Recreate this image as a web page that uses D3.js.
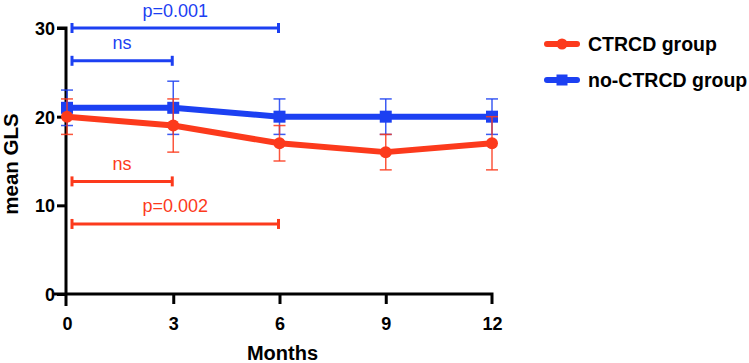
<!DOCTYPE html>
<html><head><meta charset="utf-8">
<script src="https://cdn.jsdelivr.net/npm/d3@7"></script>
<style>body{margin:0;background:#fff}svg{display:block}</style>
</head><body>
<svg id="c" width="749" height="363"></svg>
<script>
const months = [0, 3, 6, 9, 12];
const ctrcdMean = [20, 19, 17, 16, 17];
const ctrcdErr = [2, 3, 2, 2, 3];
const noCtrcdMean = [21, 21, 20, 20, 20];
const noCtrcdErr = [2, 3, 2, 2, 2];
const yTicks = [0, 10, 20, 30];
const xTicks = [0, 3, 6, 9, 12];
const seriesNames = ["CTRCD group", "no-CTRCD group"];
const bracketFrom = [0, 0, 0, 0];
const bracketTo = [6, 3, 3, 6];
const bracketY = [30, 26.3, 12.7, 7.9];
const bracketLabel = ["p=0.001", "ns", "ns", "p=0.002"];
const bracketSeries = [1, 1, 0, 0];

const RED = "#fc3a1c", BLUE = "#1c40f2";
const colors = [RED, BLUE];
const svg = d3.select("#c");
const font = "'Liberation Sans', Arial, Helvetica, sans-serif";

const x = d3.scaleLinear().domain([0, 12]).range([67, 492]);
const y = d3.scaleLinear().domain([0, 30]).range([294, 28]);

// axes
const yAxis = svg.append("g").attr("transform", "translate(66,0)")
  .call(d3.axisLeft(y).tickValues(yTicks).tickSize(9).tickPadding(2));
const xAxis = svg.append("g").attr("transform", "translate(0,294)")
  .call(d3.axisBottom(x).tickValues(xTicks).tickSize(10).tickPadding(13));
[yAxis, xAxis].forEach(g => {
  g.select(".domain").attr("stroke", "#000").attr("stroke-width", 3);
  g.selectAll(".tick line").attr("stroke", "#000").attr("stroke-width", 3);
  g.selectAll(".tick text").attr("fill", "#000").style("font-family", font)
    .style("font-size", "18px").style("font-weight", "bold");
});
yAxis.selectAll(".tick text").attr("dy", "0.36em");
xAxis.selectAll(".tick text").attr("dy", "0.72em");
yAxis.select(".domain").attr("d", `M-9,${y(30)}H0V${y(0)+12}`);
xAxis.select(".domain").attr("d", `M${66-12},0H${x(12)}V10`);
xAxis.selectAll(".tick").filter(d => d === 12).select("line").remove();
xAxis.selectAll(".tick").filter(d => d === 0).select("line").remove();

svg.append("text").attr("x", x(6)+3).attr("y", 360).attr("text-anchor", "middle")
  .style("font-family", font).style("font-size", "20px").style("font-weight", "bold").text("Months");
svg.append("text").attr("transform", "translate(18,164) rotate(-90)").attr("text-anchor", "middle")
  .style("font-family", font).style("font-size", "20.5px").style("font-weight", "bold").text("mean GLS");

// series
const series = [
  {mean: ctrcdMean, err: ctrcdErr, color: RED, marker: "circle"},
  {mean: noCtrcdMean, err: noCtrcdErr, color: BLUE, marker: "square"}
];
const line = d3.line().x(d => x(d[0])).y(d => y(d[1]));
[1, 0].forEach(si => {
  const s = series[si];
  const pts = months.map((m, i) => [m, s.mean[i], s.err[i]]);
  const g = svg.append("g");
  g.append("path").datum(pts).attr("d", line).attr("fill", "none")
    .attr("stroke", s.color).attr("stroke-width", 6).attr("stroke-linejoin", "round");
  pts.forEach(p => {
    const cx = x(p[0]);
    g.append("line").attr("x1", cx).attr("x2", cx).attr("y1", y(p[1] - p[2])).attr("y2", y(p[1] + p[2]))
      .attr("stroke", s.color).attr("stroke-width", 1.5).attr("opacity", 0.85);
    [p[1] - p[2], p[1] + p[2]].forEach(v => {
      g.append("line").attr("x1", cx - 6).attr("x2", cx + 6).attr("y1", y(v)).attr("y2", y(v))
        .attr("stroke", s.color).attr("stroke-width", 1.5).attr("opacity", 0.85);
    });
    if (s.marker === "circle") {
      g.append("circle").attr("cx", cx).attr("cy", y(p[1])).attr("r", 6).attr("fill", s.color);
    } else {
      g.append("rect").attr("x", cx - 6).attr("y", y(p[1]) - 6).attr("width", 12).attr("height", 12).attr("fill", s.color);
    }
  });
});

// significance brackets
bracketLabel.forEach((lab, i) => {
  const c = colors[bracketSeries[i]];
  const x1 = x(bracketFrom[i]) + 5, x2 = x(bracketTo[i]) - 1, yy = y(bracketY[i]);
  const g = svg.append("g");
  g.append("line").attr("x1", x1).attr("x2", x2).attr("y1", yy).attr("y2", yy).attr("stroke", c).attr("stroke-width", 3);
  [x1, x2].forEach(xx => g.append("line").attr("x1", xx).attr("x2", xx).attr("y1", yy - 5).attr("y2", yy + 5)
    .attr("stroke", c).attr("stroke-width", 3));
  g.append("text").attr("x", (x(bracketFrom[i]) + x(bracketTo[i])) / 2 + 2).attr("y", yy - 11.5)
    .attr("text-anchor", "middle").attr("fill", c).style("font-family", font).style("font-size", "18px").text(lab);
});

// legend
seriesNames.forEach((name, i) => {
  const ly = 44 + i * 36;
  const g = svg.append("g");
  g.append("line").attr("x1", 547).attr("x2", 577).attr("y1", ly).attr("y2", ly)
    .attr("stroke", colors[i]).attr("stroke-width", 6).attr("stroke-linecap", "round");
  if (i === 0) g.append("circle").attr("cx", 562).attr("cy", ly).attr("r", 5.5).attr("fill", colors[i]);
  else g.append("rect").attr("x", 556.5).attr("y", ly - 5.5).attr("width", 11).attr("height", 11).attr("fill", colors[i]);
  g.append("text").attr("x", 588).attr("y", ly + 7).style("font-family", font).style("font-size", "19.5px")
    .style("font-weight", "bold").attr("fill", "#000").text(name);
});
</script>
</body></html>
